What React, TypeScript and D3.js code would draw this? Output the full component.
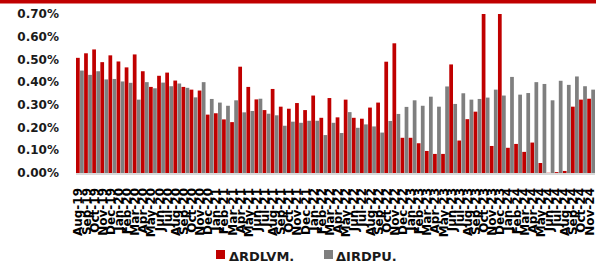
import * as d3 from "d3";
import React from "react";

const months = [
  "Aug-19", "Sep-19", "Oct-19", "Nov-19", "Dec-19",
  "Jan-20", "Feb-20", "Mar-20", "Apr-20", "May-20", "Jun-20", "Jul-20", "Aug-20", "Sep-20", "Oct-20", "Nov-20", "Dec-20",
  "Jan-21", "Feb-21", "Mar-21", "Apr-21", "May-21", "Jun-21", "Jul-21", "Aug-21", "Sep-21", "Oct-21", "Nov-21", "Dec-21",
  "Jan-22", "Feb-22", "Mar-22", "Apr-22", "May-22", "Jun-22", "Jul-22", "Aug-22", "Sep-22", "Oct-22", "Nov-22", "Dec-22",
  "Jan-23", "Feb-23", "Mar-23", "Apr-23", "May-23", "Jun-23", "Jul-23", "Aug-23", "Sep-23", "Oct-23", "Nov-23", "Dec-23",
  "Jan-24", "Feb-24", "Mar-24", "Apr-24", "May-24", "Jun-24", "Jul-24", "Aug-24", "Sep-24", "Oct-24", "Nov-24",
];

// ΔRDLVM. (red)
const rdlvm = [
  0.507, 0.527, 0.544, 0.488, 0.518, 0.491, 0.465, 0.522, 0.448, 0.379,
  0.428, 0.442, 0.407, 0.379, 0.367, 0.363, 0.257, 0.263, 0.236, 0.224,
  0.468, 0.379, 0.324, 0.277, 0.37, 0.292, 0.283, 0.308, 0.277, 0.341,
  0.243, 0.33, 0.245, 0.323, 0.243, 0.239, 0.288, 0.31, 0.49, 0.571,
  0.155, 0.155, 0.131, 0.097, 0.084, 0.084, 0.478, 0.143, 0.237, 0.27,
  0.70, 0.119, 0.70, 0.111, 0.128, 0.093, 0.134, 0.044, 0.001, 0.004,
  0.009, 0.292, 0.323, 0.327,
];

// ΔIRDPU. (gray)
const irdpu = [
  0.451, 0.432, 0.448, 0.412, 0.414, 0.403, 0.397, 0.323, 0.4, 0.373,
  0.398, 0.382, 0.394, 0.375, 0.333, 0.4, 0.326, 0.31, 0.296, 0.32,
  0.267, 0.273, 0.327, 0.261, 0.254, 0.208, 0.226, 0.221, 0.23, 0.23,
  0.167, 0.221, 0.176, 0.268, 0.199, 0.214, 0.205, 0.178, 0.229, 0.26,
  0.291, 0.32, 0.296, 0.336, 0.292, 0.381, 0.304, 0.351, 0.323, 0.326,
  0.332, 0.367, 0.341, 0.423, 0.345, 0.352, 0.4, 0.392, 0.32, 0.406,
  0.388, 0.425, 0.382, 0.367,
];

const yTicks = [0, 0.1, 0.2, 0.3, 0.4, 0.5, 0.6, 0.7];

const RED = "#c00000";
const GRAY = "#7f7f7f";
const FONT = "'DejaVu Sans', sans-serif";

export default function App() {
  const width = 596;
  const height = 264;

  const x = d3.scaleBand<string>().domain(months).range([76, 595]).paddingInner(0.04);
  const sub = d3.scaleBand<string>().domain(["r", "g"]).range([0, x.bandwidth()]).paddingInner(0.08);
  const y = d3.scaleLinear().domain([0, 0.7]).range([173, 14]).clamp(true);
  const fmt = (v: number) => v.toFixed(2) + "%";

  return (
    <svg
      width={width}
      height={height}
      style={{ position: "absolute", left: 0, top: 0, background: "#fff" }}
    >
      <rect x={0} y={0} width={width} height={3.5} fill={RED} />

      {yTicks.map((t) => (
        <text
          key={t}
          x={59}
          y={y(t)}
          dy="0.35em"
          textAnchor="end"
          fontFamily={FONT}
          fontWeight="bold"
          fontSize={12}
          fill="#1a1a1a"
        >
          {fmt(t)}
        </text>
      ))}

      <line x1={76} x2={595} y1={y(0) + 1} y2={y(0) + 1} stroke="#d9d9d9" strokeWidth={2} />

      {months.map((m, i) => (
        <g key={m} transform={`translate(${x(m)},0)`}>
          <rect
            x={sub("r")}
            y={y(rdlvm[i])}
            width={sub.bandwidth()}
            height={y(0) - y(rdlvm[i])}
            fill={RED}
          />
          <rect
            x={sub("g")}
            y={y(irdpu[i])}
            width={sub.bandwidth()}
            height={y(0) - y(irdpu[i])}
            fill={GRAY}
          />
        </g>
      ))}

      {months.map((m) => {
        const cx = (x(m) as number) + x.bandwidth() / 2;
        return (
          <text
            key={m}
            transform={`translate(${cx + 2.5},188) rotate(-90)`}
            textAnchor="end"
            fontFamily={FONT}
            fontWeight="bold"
            fontSize={12}
            fill="#000"
          >
            {m}
          </text>
        );
      })}

      <g fontFamily={FONT} fontWeight="bold" fontSize={13} fill="#1a1a1a">
        <rect x={216} y={250} width={9} height={9} fill={RED} />
        <text x={229} y={261}>ΔRDLVM.</text>
        <rect x={324} y={250} width={9} height={9} fill={GRAY} />
        <text x={336} y={261}>ΔIRDPU.</text>
      </g>
    </svg>
  );
}
